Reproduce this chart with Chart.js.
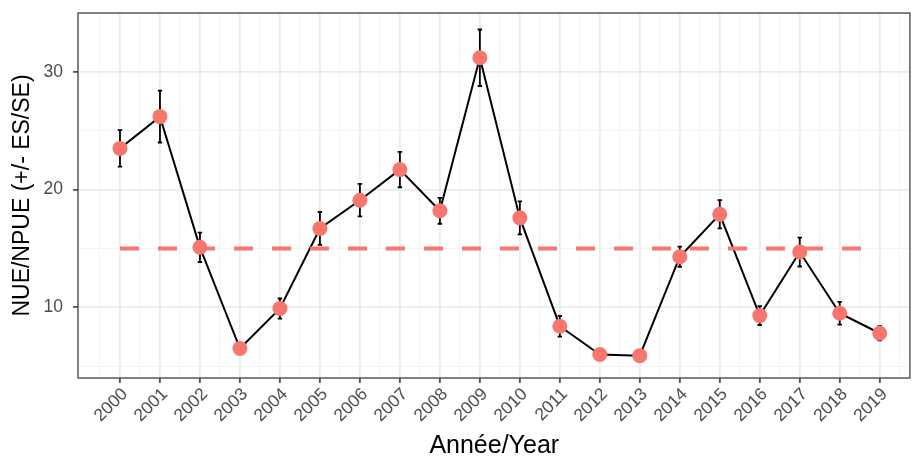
<!DOCTYPE html>
<html>
<head>
<meta charset="utf-8">
<script src="https://cdn.jsdelivr.net/npm/chart.js@4.4.1/dist/chart.umd.min.js"></script>
<style>
  html, body { margin: 0; padding: 0; background: #fff; overflow: hidden; }
  /* a little wider than the window: the lib keeps a few px free on the right */
  #box { width: 918px; height: 456px; position: relative; }
</style>
</head>
<body>
<div id="box"><canvas id="myChart"></canvas></div>
<script>
// values
const years = [2000, 2001, 2002, 2003, 2004, 2005, 2006, 2007, 2008, 2009,
               2010, 2011, 2012, 2013, 2014, 2015, 2016, 2017, 2018, 2019];
const nue = [23.5, 26.2, 15.1, 6.5, 9.9, 16.7, 19.1, 21.7, 18.2, 31.2,
             17.6, 8.4, 6.0, 5.9, 14.3, 17.9, 9.3, 14.7, 9.5, 7.8];
const se = [1.55, 2.2, 1.25, 0.2, 0.85, 1.4, 1.38, 1.5, 1.1, 2.4,
            1.4, 0.88, 0.2, 0.2, 0.85, 1.2, 0.8, 1.23, 0.96, 0.6];
const refYears = [2000, 2019];
const refValue = [15, 15];
const yTicks = [5, 10, 15, 20, 25, 30, 35];

const salmon = '#F8766D';
const isMajorX = v => Number.isInteger(v);
const isMajorY = v => v % 10 === 0;

const errorBars = {
    id: 'errorBars',
    beforeDatasetsDraw(chart) {
        const { ctx, scales: { x, y } } = chart;
        ctx.save();
        ctx.strokeStyle = '#000';
        ctx.lineWidth = 1.8;
        years.forEach((yr, i) => {
            const px = x.getPixelForValue(yr);
            const top = y.getPixelForValue(nue[i] + se[i]);
            const bot = y.getPixelForValue(nue[i] - se[i]);
            ctx.beginPath();
            ctx.moveTo(px, top); ctx.lineTo(px, bot);
            ctx.moveTo(px - 2.2, top); ctx.lineTo(px + 2.2, top);
            ctx.moveTo(px - 2.2, bot); ctx.lineTo(px + 2.2, bot);
            ctx.stroke();
        });
        ctx.restore();
    }
};

// full panel border like theme_bw
const panelBorder = {
    id: 'panelBorder',
    afterDraw(chart) {
        const { ctx, chartArea: a } = chart;
        ctx.save();
        ctx.strokeStyle = '#333333';
        ctx.lineWidth = 1.2;
        ctx.strokeRect(a.left, a.top, a.right - a.left - 0.6, a.bottom - a.top);
        ctx.restore();
    }
};

const data = {
    datasets: [
        {
            // points on top
            data: years.map((yr, i) => ({ x: yr, y: nue[i] })),
            showLine: false,
            pointRadius: 7.5,
            pointHoverRadius: 7.5,
            pointBackgroundColor: salmon,
            pointBorderWidth: 0,
            order: 0
        },
        {
            data: refYears.map((yr, i) => ({ x: yr, y: refValue[i] })),
            borderColor: salmon,
            borderWidth: 4,
            borderDash: [19, 19],
            borderCapStyle: 'butt',
            pointRadius: 0,
            order: 1
        },
        {
            data: years.map((yr, i) => ({ x: yr, y: nue[i] })),
            borderColor: '#000',
            borderWidth: 2,
            pointRadius: 0,
            tension: 0,
            order: 2
        }
    ]
};

const config = {
    type: 'line',
    data,
    options: {
        responsive: true,
        maintainAspectRatio: false,
        animation: false,
        layout: { padding: { top: 13, right: 0, left: 0, bottom: 0 } },
        plugins: { legend: { display: false }, tooltip: { enabled: false } },
        scales: {
            x: {
                type: 'linear',
                min: 1998.95,
                max: 2019.77,
                afterBuildTicks(scale) {
                    const t = [];
                    for (let v = 1999.5; v <= 2019.5; v += 0.5) t.push({ value: v });
                    scale.ticks = t;
                },
                afterFit(scale) {
                    scale.height = 78;
                    scale.paddingLeft = 0;
                    scale.paddingRight = 0;
                },
                ticks: {
                    autoSkip: false,
                    minRotation: 45,
                    maxRotation: 45,
                    padding: 1,
                    labelOffset: 5,
                    color: '#4D4D4D',
                    font: { family: 'Liberation Sans', size: 17.5 },
                    callback: v => isMajorX(v) ? String(v) : ''
                },
                grid: {
                    color: ctx => isMajorX(ctx.tick.value) ? '#EBEBEB' : '#F3F3F3',
                    lineWidth: ctx => isMajorX(ctx.tick.value) ? 1.8 : 1,
                    tickColor: ctx => isMajorX(ctx.tick.value) ? '#333333' : 'rgba(0,0,0,0)',
                    tickLength: 5,
                    tickWidth: 1.5
                },
                border: { display: false },
                title: {
                    display: true,
                    text: 'Année/Year',
                    color: '#000',
                    font: { family: 'Liberation Sans', size: 25, lineHeight: 1 },
                    padding: { top: 0, bottom: -3 }
                }
            },
            y: {
                min: 4,
                max: 35,
                afterBuildTicks(scale) {
                    scale.ticks = yTicks.map(v => ({ value: v }));
                },
                afterFit(scale) {
                    scale.width = 78;
                    scale.paddingTop = 0;
                    scale.paddingBottom = 0;
                },
                ticks: {
                    padding: 10,
                    color: '#4D4D4D',
                    font: { family: 'Liberation Sans', size: 17.5 },
                    callback: v => isMajorY(v) ? String(v) : ''
                },
                grid: {
                    color: ctx => isMajorY(ctx.tick.value) ? '#EBEBEB' : '#F3F3F3',
                    lineWidth: ctx => isMajorY(ctx.tick.value) ? 1.8 : 1,
                    tickColor: ctx => isMajorY(ctx.tick.value) ? '#333333' : 'rgba(0,0,0,0)',
                    tickLength: 5,
                    tickWidth: 1.5
                },
                border: { display: false },
                title: {
                    display: true,
                    text: 'NUE/NPUE (+/- ES/SE)',
                    color: '#000',
                    font: { family: 'Liberation Sans', size: 23 },
                    padding: { top: 9, bottom: 0 }
                }
            }
        }
    },
    plugins: [errorBars, panelBorder]
};

new Chart(document.getElementById('myChart').getContext('2d'), config);
</script>
</body>
</html>
